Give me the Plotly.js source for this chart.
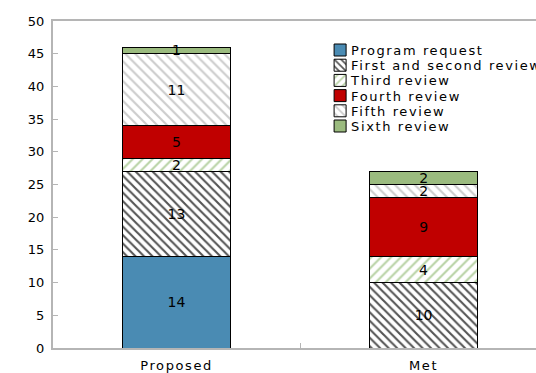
<!DOCTYPE html>
<html><head><meta charset="utf-8">
<script src="https://cdn.plot.ly/plotly-3.0.1.min.js"></script>
<style>
html,body{margin:0;padding:0;background:#fff;}
#chart{width:536px;height:373px;}
#chart .legendtext{letter-spacing:1.6px;}
#chart .xtick text{letter-spacing:1.6px;}
</style>
</head><body><div id="chart"></div>
<script>
var categories = ["Proposed", "Met"];
var programRequest = [14, null];
var firstSecondReview = [13, 10];
var thirdReview = [2, 4];
var fourthReview = [5, 9];
var fifthReview = [11, 2];
var sixthReview = [1, 2];
var yTicks = [0, 5, 10, 15, 20, 25, 30, 35, 40, 45, 50];

var FONT = "DejaVu Sans, Verdana, sans-serif";
function mk(name, vals, style) {
  var t = {
    type: "bar", name: name, x: categories, y: vals,
    width: 0.437,
    text: vals.map(function (v) { return v == null ? "" : String(v); }),
    textposition: "inside", insidetextanchor: "middle", textangle: 0,
    textfont: {family: FONT, size: 14, color: "#000"},
    constraintext: "none",
    hoverinfo: "name+y",
    marker: {color: style.color, line: {color: "#000", width: 1}}
  };
  if (style.pattern) t.marker.pattern = style.pattern;
  return t;
}
var data = [
  mk("Program request", programRequest, {color: "#4a8bb3"}),
  mk("First and second review", firstSecondReview, {color: "#ffffff", pattern: {shape: "\\", fgcolor: "#555555", bgcolor: "#ffffff", size: 6, solidity: 0.35}}),
  mk("Third review", thirdReview, {color: "#ffffff", pattern: {shape: "/", fgcolor: "#b9d3a6", bgcolor: "#ffffff", size: 7, solidity: 0.3}}),
  mk("Fourth review", fourthReview, {color: "#c00000"}),
  mk("Fifth review", fifthReview, {color: "#ffffff", pattern: {shape: "\\", fgcolor: "#cccccc", bgcolor: "#ffffff", size: 7, solidity: 0.3}}),
  mk("Sixth review", sixthReview, {color: "#9bbb7f"})
];
var layout = {
  width: 536, height: 373,
  margin: {l: 53, r: 0, t: 21, b: 25},
  paper_bgcolor: "#fff", plot_bgcolor: "#fff",
  barmode: "stack",
  showlegend: true,
  legend: {x: 0.553, y: 0.957, xanchor: "left", yanchor: "top", traceorder: "normal",
    font: {family: FONT, size: 13, color: "#000"}, bgcolor: "rgba(0,0,0,0)",
    tracegroupgap: 0, itemwidth: 30},
  font: {family: FONT, size: 13, color: "#000"},
  xaxis: {
    type: "category", range: [-0.5, 1.455],
    showline: true, linecolor: "#b5b5b5", linewidth: 2, mirror: true,
    ticks: "inside", tickson: "boundaries", ticklen: 5, tickcolor: "#b5b5b5", tickwidth: 1,
    ticklabelstandoff: 4,
    showgrid: false, tickfont: {family: FONT, size: 13, color: "#000"}
  },
  yaxis: {
    range: [0, 50], tickvals: yTicks, ticktext: yTicks.map(String),
    showline: true, linecolor: "#b5b5b5", linewidth: 2, mirror: true,
    ticks: "inside", ticklen: 5, tickcolor: "#b5b5b5", tickwidth: 1,
    ticklabelstandoff: 4,
    showgrid: false, zeroline: false,
    tickfont: {family: FONT, size: 13, color: "#000"}
  }
};
Plotly.newPlot("chart", data, layout, {displayModeBar: false, staticPlot: true}).then(function (gd) {
  gd.querySelectorAll(".legend [clip-path]").forEach(function (el) { el.removeAttribute("clip-path"); });
  var items = gd.querySelectorAll(".legend .traces");
  var y0 = null;
  items.forEach(function (g, i) {
    var tr = g.getAttribute("transform") || "";
    var m = /translate\(([-\d.]+),\s*([-\d.]+)\)/.exec(tr);
    var x = m ? parseFloat(m[1]) : 0;
    var y = m ? parseFloat(m[2]) : 0;
    if (y0 === null) y0 = y;
    g.setAttribute("transform", "translate(" + x + "," + (y0 + i * 15.2) + ")");
    var t = g.querySelector(".legendtext");
    if (t) t.setAttribute("x", parseFloat(t.getAttribute("x") || 40) - 9);
  });
});
</script></body></html>
